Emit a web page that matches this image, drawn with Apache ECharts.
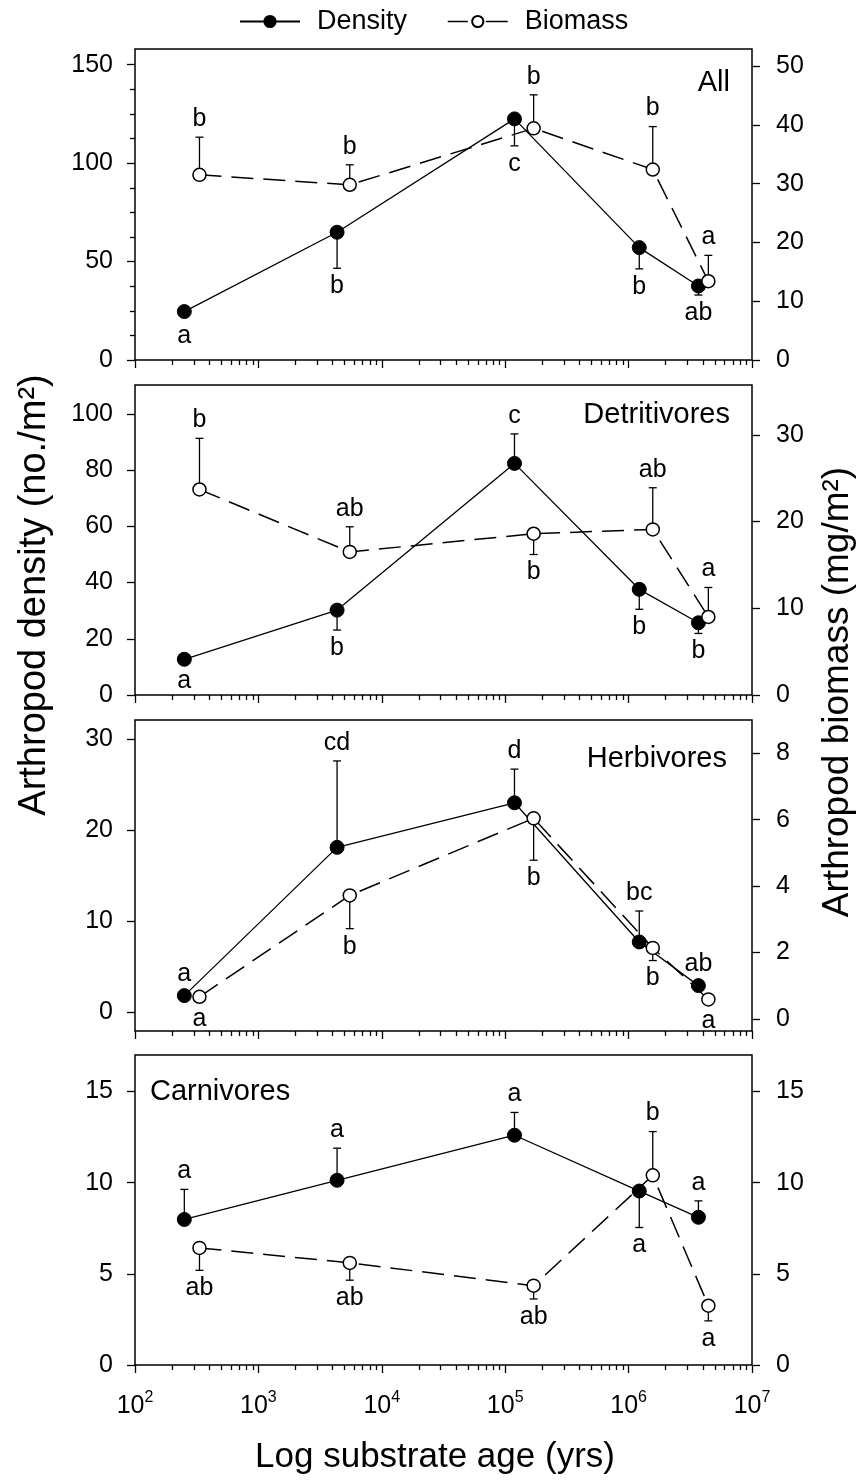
<!DOCTYPE html>
<html>
<head>
<meta charset="utf-8">
<script src="https://cdn.jsdelivr.net/npm/echarts@6/dist/echarts.min.js"></script>
<style>
  html, body { margin: 0; padding: 0; background: #fff; }
  #chart { width: 862px; height: 1481px; }
</style>
</head>
<body>
<div id="chart"></div>
<script>
// Substrate age of the five sites (years); biomass points are nudged right for legibility
const ageDensity = [251, 4340, 118900, 1220000, 3680000];
const ageBiomass = [333, 5500, 170000, 1570000, 4430000];

// All arthropods
const allDensity = [24.6, 64.9, 122.5, 57.1, 37.6];
const allDensityErr = [-3.4, -18.3, -13.7, -10.8, -4.6];
const allDensityLetters = ['a', 'b', 'c', 'b', 'ab'];
const allBiomass = [31.5, 29.8, 39.4, 32.4, 13.4];
const allBiomassErr = [6.4, 3.4, 5.7, 7.3, 4.4];
const allBiomassLetters = ['b', 'b', 'b', 'b', 'a'];

// Detritivores
const detDensity = [12.7, 30.2, 82.4, 37.6, 25.7];
const detDensityErr = [-0.5, -7.1, 10.5, -7.1, -3.8];
const detDensityLetters = ['a', 'b', 'c', 'b', 'b'];
const detBiomass = [23.7, 16.5, 18.6, 19.1, 9.0];
const detBiomassErr = [5.9, 2.9, -2.4, 4.8, 3.4];
const detBiomassLetters = ['b', 'ab', 'b', 'ab', 'a'];

// Herbivores
const herbDensity = [1.8, 18.1, 23.0, 7.7, 2.9];
const herbDensityErr = [0.3, 9.5, 3.7, 3.4, 0.3];
const herbDensityLetters = ['a', 'cd', 'd', 'bc', 'ab'];
const herbBiomass = [0.67, 3.72, 6.04, 2.14, 0.59];
const herbBiomassErr = [-0.05, -1.0, -1.26, -0.38, -0.05];
const herbBiomassLetters = ['a', 'b', 'b', 'b', 'a'];

// Carnivores
const carnDensity = [7.98, 10.13, 12.6, 9.54, 8.1];
const carnDensityErr = [1.65, 1.76, 1.25, -2.0, 0.9];
const carnDensityLetters = ['a', 'a', 'a', 'a', 'a'];
const carnBiomass = [6.42, 5.6, 4.35, 10.4, 3.25];
const carnBiomassErr = [-1.23, -0.95, -0.73, 2.4, -0.83];
const carnBiomassLetters = ['ab', 'ab', 'ab', 'b', 'a'];

// Tick values
const ageTicks = [1e2, 1e3, 1e4, 1e5, 1e6, 1e7];
const ageMinorTicks = [];
for (let e = 2; e < 7; e++) {
  for (let k = 2; k <= 9; k++) ageMinorTicks.push(k * Math.pow(10, e));
}
const allLeftTicks = [0, 50, 100, 150];
const allLeftMinorTicks = [12.5, 25, 37.5, 62.5, 75, 87.5, 112.5, 125, 137.5];
const allRightTicks = [0, 10, 20, 30, 40, 50];
const detLeftTicks = [0, 20, 40, 60, 80, 100];
const detRightTicks = [0, 10, 20, 30];
const herbLeftTicks = [0, 10, 20, 30];
const herbRightTicks = [0, 2, 4, 6, 8];
const carnLeftTicks = [0, 5, 10, 15];
const carnRightTicks = [0, 5, 10, 15];

const FONT = '"Liberation Sans", Arial, Helvetica, sans-serif';
const INK = '#000';

const panels = [
  { name: 'All', density: allDensity, densityErr: allDensityErr, densityLetters: allDensityLetters,
    biomass: allBiomass, biomassErr: allBiomassErr, biomassLetters: allBiomassLetters,
    left: [0, 158], right: [0, 52.9], leftTicks: allLeftTicks, leftMinor: allLeftMinorTicks, rightTicks: allRightTicks,
    top: 49, height: 311, title: { x: 730, y: 83, align: 'right' } },
  { name: 'Detritivores', density: detDensity, densityErr: detDensityErr, densityLetters: detDensityLetters,
    biomass: detBiomass, biomassErr: detBiomassErr, biomassLetters: detBiomassLetters,
    left: [0, 110.3], right: [0, 35.75], leftTicks: detLeftTicks, rightTicks: detRightTicks,
    top: 385, height: 310, title: { x: 730, y: 415, align: 'right' } },
  { name: 'Herbivores', density: herbDensity, densityErr: herbDensityErr, densityLetters: herbDensityLetters,
    biomass: herbBiomass, biomassErr: herbBiomassErr, biomassLetters: herbBiomassLetters,
    left: [-2.09, 32.1], right: [-0.36, 9.0], leftTicks: herbLeftTicks, rightTicks: herbRightTicks,
    top: 720, height: 311, title: { x: 727, y: 759, align: 'right' } },
  { name: 'Carnivores', density: carnDensity, densityErr: carnDensityErr, densityLetters: carnDensityLetters,
    biomass: carnBiomass, biomassErr: carnBiomassErr, biomassLetters: carnBiomassLetters,
    left: [0, 17.0], right: [0, 17.0], leftTicks: carnLeftTicks, rightTicks: carnRightTicks,
    top: 1055, height: 310, title: { x: 150, y: 1092, align: 'left' } }
];

const GRID_LEFT = 135;
const GRID_WIDTH = 617;

const grid = [];
const xAxis = [];
const yAxis = [];
const series = [];
const graphic = [];

const tickLine = { color: INK, width: 1.3 };

// One-sided error bars with a cap, plus the significance letter beyond the bar end
function errorBarSeries(xs, ys, errs, letters, xi, yi) {
  return {
    type: 'custom',
    coordinateSystem: 'cartesian2d',
    xAxisIndex: xi,
    yAxisIndex: yi,
    z: 1,
    silent: true,
    clip: false,
    data: xs.map((x, i) => [x, ys[i], errs[i]]),
    renderItem: function (params, api) {
      const x = api.value(0), y = api.value(1), e = api.value(2);
      const p = api.coord([x, y]);
      const q = api.coord([x, y + e]);
      const dir = e >= 0 ? -1 : 1;
      const len = Math.abs(q[1] - p[1]);
      const children = [];
      if (len > 7) {
        children.push({ type: 'line', shape: { x1: p[0], y1: p[1], x2: q[0], y2: q[1] },
          style: { stroke: INK, lineWidth: 1.3 } });
        children.push({ type: 'line', shape: { x1: q[0] - 4, y1: q[1], x2: q[0] + 4, y2: q[1] },
          style: { stroke: INK, lineWidth: 1.3 } });
      }
      const dist = Math.max(len, 4) + 18;
      children.push({ type: 'text', style: {
        text: letters[params.dataIndex], x: p[0], y: p[1] + dir * dist,
        fill: INK, fontSize: 25, fontFamily: FONT, align: 'center', verticalAlign: 'middle' } });
      return { type: 'group', children: children };
    }
  };
}

panels.forEach((pn, i) => {
  const last = i === panels.length - 1;
  grid.push({ left: GRID_LEFT, width: GRID_WIDTH, top: pn.top, height: pn.height,
    show: true, borderColor: INK, borderWidth: 1.5, backgroundColor: 'transparent' });

  const xMain = xAxis.length;
  xAxis.push({
    type: 'log', logBase: 10, gridIndex: i, min: 100, max: 1e7, position: 'bottom',
    axisLine: { show: false, onZero: false },
    axisTick: { show: true, length: 8, lineStyle: tickLine, customValues: ageTicks },
    axisLabel: {
      show: last, customValues: ageTicks, margin: 27, color: INK,
      formatter: v => '{b|10}{s|' + Math.round(Math.log10(v)) + '}',
      rich: {
        b: { fontSize: 25, fontFamily: FONT, color: INK, lineHeight: 28 },
        s: { fontSize: 16, fontFamily: FONT, color: INK, lineHeight: 28, padding: [0, 0, 16, 0] }
      }
    },
    splitLine: { show: false }
  });
  xAxis.push({
    type: 'log', logBase: 10, gridIndex: i, min: 100, max: 1e7, position: 'bottom',
    axisLine: { show: false, onZero: false },
    axisTick: { show: true, length: 5, lineStyle: tickLine, customValues: ageMinorTicks },
    axisLabel: { show: false },
    splitLine: { show: false }
  });

  const yLeft = yAxis.length;
  yAxis.push({
    type: 'value', gridIndex: i, position: 'left', min: pn.left[0], max: pn.left[1],
    axisLine: { show: false },
    axisTick: { show: true, length: 8, lineStyle: tickLine, customValues: pn.leftTicks },
    axisLabel: { customValues: pn.leftTicks, margin: 22, color: INK, fontSize: 25, fontFamily: FONT },
    splitLine: { show: false }
  });
  const yRight = yAxis.length;
  yAxis.push({
    type: 'value', gridIndex: i, position: 'right', min: pn.right[0], max: pn.right[1],
    axisLine: { show: false },
    axisTick: { show: true, length: 8, lineStyle: tickLine, customValues: pn.rightTicks },
    axisLabel: { customValues: pn.rightTicks, margin: 24, color: INK, fontSize: 25, fontFamily: FONT },
    splitLine: { show: false }
  });
  if (pn.leftMinor) {
    yAxis.push({
      type: 'value', gridIndex: i, position: 'left', offset: 0, min: pn.left[0], max: pn.left[1],
      axisLine: { show: false },
      axisTick: { show: true, length: 5, lineStyle: tickLine, customValues: pn.leftMinor },
      axisLabel: { show: false },
      splitLine: { show: false }
    });
  }

  series.push(errorBarSeries(ageDensity, pn.density, pn.densityErr, pn.densityLetters, xMain, yLeft));
  series.push(errorBarSeries(ageBiomass, pn.biomass, pn.biomassErr, pn.biomassLetters, xMain, yRight));

  series.push({
    name: 'Density', type: 'line', xAxisIndex: xMain, yAxisIndex: yLeft,
    data: ageDensity.map((x, k) => [x, pn.density[k]]),
    symbol: 'circle', symbolSize: 14, z: 3,
    itemStyle: { color: INK, borderColor: INK, borderWidth: 1 },
    lineStyle: { color: INK, width: 1.3, type: 'solid' },
    animation: false
  });
  series.push({
    name: 'Biomass', type: 'line', xAxisIndex: xMain, yAxisIndex: yRight,
    data: ageBiomass.map((x, k) => [x, pn.biomass[k]]),
    symbol: 'circle', symbolSize: 13, z: 4,
    itemStyle: { color: '#fff', borderColor: INK, borderWidth: 1.5 },
    lineStyle: { color: INK, width: 1.5, type: [22, 10] },
    animation: false
  });

  graphic.push({ type: 'text', x: pn.title.x, y: pn.title.y, silent: true,
    style: { text: pn.name, fill: INK, fontSize: 29, fontFamily: FONT,
      align: pn.title.align, verticalAlign: 'middle' } });
});

// Axis titles
graphic.push({ type: 'text', x: 435, y: 1457, silent: true,
  style: { text: 'Log substrate age (yrs)', fill: INK, fontSize: 35, fontFamily: FONT,
    align: 'center', verticalAlign: 'middle' } });
graphic.push({ type: 'text', x: 35, y: 595, rotation: Math.PI / 2, silent: true,
  style: { text: 'Arthropod density (no./m²)', fill: INK, fontSize: 38, fontFamily: FONT,
    align: 'center', verticalAlign: 'middle' } });
graphic.push({ type: 'text', x: 838, y: 692, rotation: Math.PI / 2, silent: true,
  style: { text: 'Arthropod biomass (mg/m²)', fill: INK, fontSize: 37, fontFamily: FONT,
    align: 'center', verticalAlign: 'middle' } });

const chart = echarts.init(document.getElementById('chart'), null, { renderer: 'canvas' });
chart.setOption({
  animation: false,
  backgroundColor: '#fff',
  textStyle: { fontFamily: FONT, color: INK },
  legend: {
    data: [
      { name: 'Density' },
      { name: 'Biomass', lineStyle: { type: [20, 18, 26, 100], width: 1.5 } }
    ],
    left: 234, top: 3,
    itemWidth: 60, itemHeight: 14, itemGap: 40,
    textStyle: { fontSize: 27, fontFamily: FONT, color: INK, padding: [0, 0, 0, 12] },
    selectedMode: false
  },
  grid: grid,
  xAxis: xAxis,
  yAxis: yAxis,
  series: series,
  graphic: graphic
});
</script>
</body>
</html>
